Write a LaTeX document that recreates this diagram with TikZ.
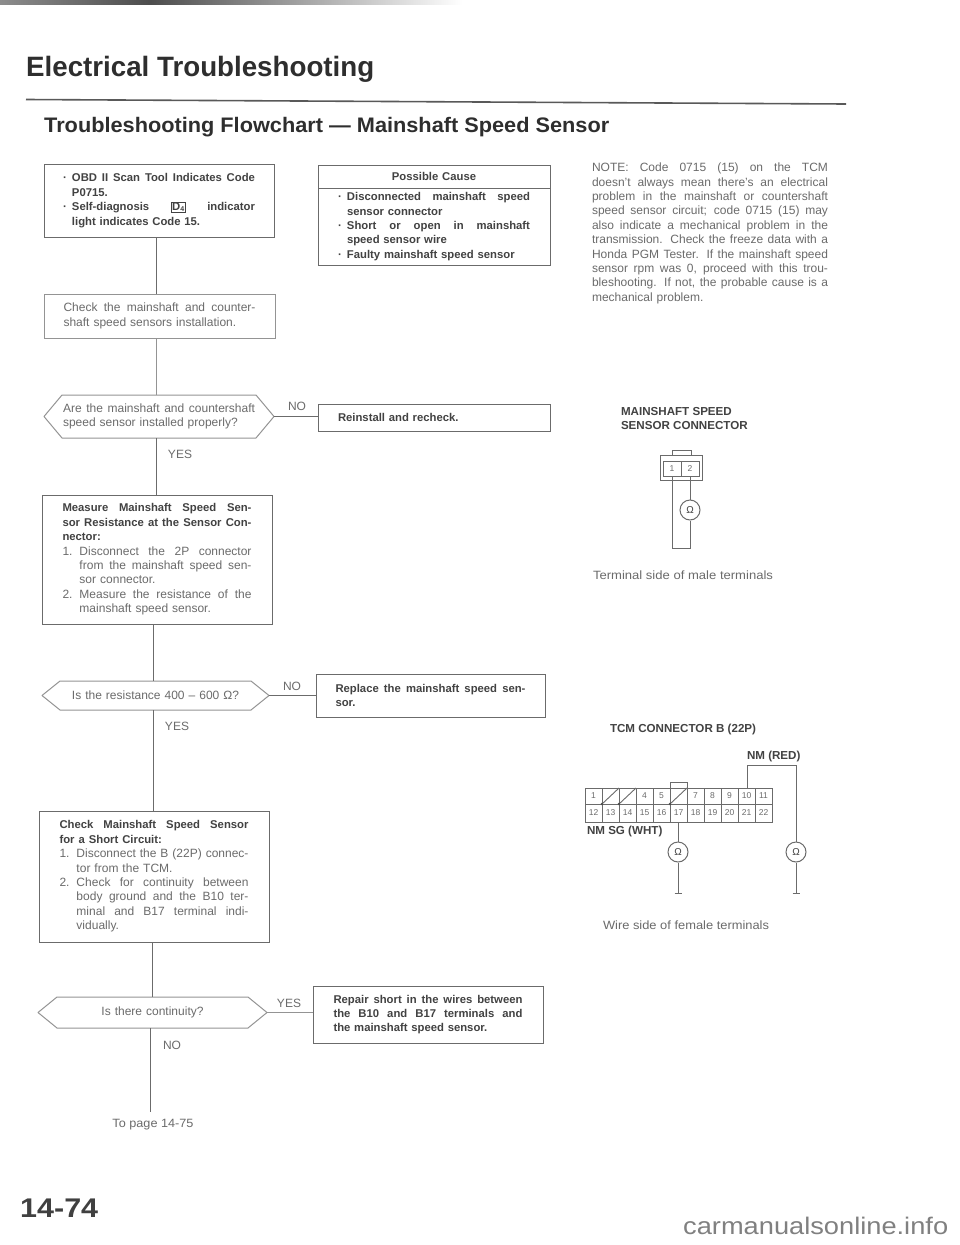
\documentclass[tikz,border=0pt]{standalone}
\usepackage{fontspec}
\usepackage{graphicx}
\setmainfont{Liberation Sans}
\usetikzlibrary{calc}
\definecolor{txt}{gray}{0.42}
\definecolor{btxt}{gray}{0.26}
\definecolor{lin}{gray}{0.42}
\definecolor{linl}{gray}{0.58}
\newcommand\jbox[2]{\makebox[#1][s]{\spaceskip=0pt \xspaceskip=0pt #2}}
\newcommand\jl[1]{\jbox{\hsize}{#1}}
\newcommand\jli[2][17pt]{\hspace*{#1}\jbox{\dimexpr\hsize-#1\relax}{#2}}
\newcommand\nli[3][17pt]{\makebox[#1][l]{#2}\jbox{\dimexpr\hsize-#1\relax}{#3}}
\newcommand\pl[2][17pt]{\hspace*{#1}#2}
\newcommand\bfl[1]{{\color{btxt}\fontsize{11.3}{14.4}\selectfont\bfseries #1}}
\newcommand\fitw[2]{\resizebox{#1pt}{\height}{#2}}
\newcommand\hexa[3][lin]{\draw[color=#1,line width=1pt,line join=round]
  (#2.west) -- ($(#2.north west)+(#3,0)$) -- ($(#2.north east)+(-#3,0)$) -- (#2.east)
  -- ($(#2.south east)+(-#3,0)$) -- ($(#2.south west)+(#3,0)$) -- cycle;}
\tikzset{
  base/.style={inner sep=0pt,outer sep=0pt,align=left,anchor=north west,
    font=\fontsize{12}{14.4}\selectfont,text=txt},
  boxn/.style={base,draw=lin,line width=1pt},
  boldbox/.style={boxn,text=btxt,font=\fontsize{11.3}{14.4}\selectfont\bfseries},
  hexn/.style={base},
  tag/.style={inner sep=0pt,outer sep=0pt,font=\fontsize{12}{14}\selectfont,text=txt},
  flow/.style={draw=lin,line width=1pt},
  flowl/.style={draw=linl,line width=1pt},
  wire/.style={draw=lin,line width=1pt},
  cellb/.style={draw=lin,line width=1pt,inner sep=0pt,outer sep=0pt,minimum width=17pt,
    font=\fontsize{8.5}{10}\selectfont,text=txt},
  omega/.style={draw=lin,line width=1pt,circle,minimum size=20pt,inner sep=0pt,
    font=\fontsize{10}{11}\selectfont,text=btxt},
  captext/.style={inner sep=0pt,outer sep=0pt,anchor=west,font=\fontsize{12}{14}\selectfont,text=txt},
  bcap/.style={inner sep=0pt,outer sep=0pt,anchor=west,font=\fontsize{11.6}{14.8}\selectfont\bfseries,text=btxt,align=left},
  shell/.style={draw=lin,line width=1pt,inner sep=0pt,outer sep=0pt,anchor=north west},
}
\begin{document}
\begin{tikzpicture}[x=1pt,y=-1pt]
\useasboundingbox (0,0) rectangle (960,1245);
\fill[white] (0,0) rectangle (960,1245);
% page edge band
\shade[left color=black!45,right color=black!70] (0,0) rectangle (150,4);
\shade[left color=black!70,right color=white] (150,0) rectangle (462,4);
% headings
\node[inner sep=0pt,anchor=base west,text=black!82,font=\fontsize{28}{30}\selectfont\bfseries] (title) at (26,76)
  {\fitw{348}{Electrical Troubleshooting}};
\draw[black!65,line width=1.6pt] (26,99.5) -- (846,104);
\node[inner sep=0pt,anchor=base west,text=black!82,font=\fontsize{21}{24}\selectfont\bfseries] (sub) at (44,132)
  {\fitw{565}{Troubleshooting Flowchart — Mainshaft Speed Sensor}};
% flow boxes
\node[boldbox,minimum width=230pt,minimum height=73pt,text width=192pt,inner xsep=19pt] (b1) at (44,164)
  {\makebox[9pt][l]{·}\jbox{\dimexpr\hsize-9pt\relax}{OBD II Scan Tool Indicates Code}\\
   \hspace*{9pt}P0715.\\
   \makebox[9pt][l]{·}\jbox{\dimexpr\hsize-9pt\relax}{Self-diagnosis {\fboxsep=.8pt\fboxrule=.5pt\fbox{D\raisebox{-1pt}{\scriptsize 4}}} indicator}\\
   \hspace*{9pt}light indicates Code 15.};
\node[boldbox,minimum width=232pt,minimum height=23pt,text width=232pt,align=center] (causeh) at (318,165) {Possible Cause};
\node[boldbox,minimum width=232pt,minimum height=77pt,text width=192pt,inner xsep=20pt] (causeb) at (318,188)
  {\makebox[9pt][l]{·}\jbox{\dimexpr\hsize-9pt\relax}{Disconnected mainshaft speed}\\
   \hspace*{9pt}sensor connector\\
   \makebox[9pt][l]{·}\jbox{\dimexpr\hsize-9pt\relax}{Short or open in mainshaft}\\
   \hspace*{9pt}speed sensor wire\\
   \makebox[9pt][l]{·}Faulty mainshaft speed sensor};
\node[boxn,draw=linl,minimum width=231pt,minimum height=44pt,text width=192pt,inner xsep=19.5pt] (b2) at (44,294)
  {\jl{Check the mainshaft and counter-}\\shaft speed sensors installation.};
\node[hexn,minimum width=230pt,minimum height=43pt,text width=192pt,inner xsep=19pt] (d1) at (44,395)
  {\jl{Are the mainshaft and countershaft}\\speed sensor installed properly?};
\hexa[linl]{d1}{18}
\node[boldbox,minimum width=232pt,minimum height=27pt,text width=192pt,inner xsep=20pt] (r1) at (318,404) {Reinstall and recheck.};
\node[boxn,minimum width=230pt,minimum height=129pt,text width=189pt,inner xsep=20.5pt] (m) at (42,495)
  {\bfl{\jl{Measure Mainshaft Speed Sen-}}\\
   \bfl{\jl{sor Resistance at the Sensor Con-}}\\
   \bfl{nector:}\\
   \nli{1.}{Disconnect the 2P connector}\\
   \jli{from the mainshaft speed sen-}\\
   \pl{sor connector.}\\
   \nli{2.}{Measure the resistance of the}\\
   \pl{mainshaft speed sensor.}};
\node[hexn,minimum width=227pt,minimum height=29pt,text width=227pt,align=center] (d2) at (42,681)
  {Is the resistance 400 – 600 Ω?};
\hexa[linl]{d2}{18}
\node[boldbox,minimum width=229pt,minimum height=43pt,text width=190pt,inner xsep=19.5pt] (r2) at (316,674)
  {\jl{Replace the mainshaft speed sen-}\\sor.};
\node[boxn,minimum width=230pt,minimum height=131pt,text width=189pt,inner xsep=20.5pt] (k) at (39,811)
  {\bfl{\jl{Check Mainshaft Speed Sensor}}\\
   \bfl{for a Short Circuit:}\\
   \nli{1.}{Disconnect the B (22P) connec-}\\
   \pl{tor from the TCM.}\\
   \nli{2.}{Check for continuity between}\\
   \jli{body ground and the B10 ter-}\\
   \jli{minal and B17 terminal indi-}\\
   \pl{vidually.}};
\node[hexn,minimum width=229pt,minimum height=31pt,text width=229pt,align=center] (d3) at (38,997)
  {Is there continuity?};
\hexa[linl]{d3}{19}
\node[boldbox,minimum width=230pt,minimum height=57pt,text width=189pt,inner xsep=20.5pt] (r3) at (313,986)
  {\jl{Repair short in the wires between}\\
   \jl{the B10 and B17 terminals and}\\
   the mainshaft speed sensor.};
% connector guides
\coordinate (xa) at (156,0); \coordinate (xb) at (153,0); \coordinate (xc) at (152,0); \coordinate (xd) at (150,0);
\coordinate (endp) at (150,1112);
\draw[flow] (b1.south -| xa) -- (b2.north -| xa);
\draw[flowl] (b2.south -| xa) -- (d1.north -| xa);
\draw[flow] (d1.south -| xa) -- (m.north -| xa);
\draw[flow] (m.south -| xb) -- (d2.north -| xb);
\draw[flow] (d2.south -| xb) -- (k.north -| xb);
\draw[flow] (k.south -| xc) -- (d3.north -| xc);
\draw[flow] (d3.south -| xd) -- (endp);
\draw[flow] (d1.east) -- (r1.west |- d1.east);
\draw[flow] (d2.east) -- (r2.west |- d2.east);
\draw[flowl] (d3.east) -- (r3.west |- d3.east);
% labels
\node[tag] (n1) at (297,406) {NO};
\node[tag] (y1) at (180,454) {YES};
\node[tag] (n2) at (292,686) {NO};
\node[tag] (y2) at (177,726) {YES};
\node[tag] (y3) at (289,1003) {YES};
\node[tag] (n3) at (172,1045) {NO};
\node[tag] (topage) at (153,1125) {\fitw{81}{To page 14-75}};
% note
\node[base,text width=236pt] (note) at (592,163)
  {\jl{NOTE: Code 0715 (15) on the TCM}\\
   \jl{doesn't always mean there's an electrical}\\
   \jl{problem in the mainshaft or countershaft}\\
   \jl{speed sensor circuit; code 0715 (15) may}\\
   \jl{also indicate a mechanical problem in the}\\
   \jl{transmission. Check the freeze data with a}\\
   \jl{Honda PGM Tester. If the mainshaft speed}\\
   \jl{sensor rpm was 0, proceed with this trou-}\\
   \jl{bleshooting. If not, the probable cause is a}\\
   mechanical problem.};
% mainshaft connector
\node[bcap] (mc) at (621,418.5) {MAINSHAFT SPEED\\SENSOR CONNECTOR};
\node[shell,minimum width=19pt,minimum height=5pt] (tab) at (672,450) {};
\node[shell,minimum width=42pt,minimum height=25pt] (hous) at (660,455) {};
\node[cellb,minimum width=18pt,minimum height=15pt,anchor=north west] (p1) at (663,461) {1};
\node[cellb,minimum width=18pt,minimum height=15pt,anchor=north west] (p2) at (681,461) {2};
\node[omega] (om0) at (690,510) {Ω};
\coordinate (lp) at (681,548);
\draw[wire] (p1.south) -- (p1.south |- lp) -- (p2.south |- lp) -- (om0.south);
\draw[wire] (p2.south) -- (om0.north);
\node[captext] (c1) at (593,575) {\fitw{180}{Terminal side of male terminals}};
% TCM connector
\node[captext,font=\fontsize{11.6}{14}\selectfont\bfseries,text=btxt] (tc) at (610,729) {TCM CONNECTOR B (22P)};
\node[captext,font=\fontsize{11.6}{14}\selectfont\bfseries,text=btxt] (nmr) at (747,756) {NM (RED)};
\node[captext,font=\fontsize{11.6}{14}\selectfont\bfseries,text=btxt] (nms) at (587,831) {NM SG (WHT)};
\foreach \i/\t in {1/1,2/{},3/{},4/4,5/5,6/{},7/7,8/8,9/9,10/10,11/11}{
  \node[cellb,minimum height=16pt,anchor=north west] (t\i) at ({585+17*(\i-1)},788) {\t};
}
\foreach \i/\t in {1/12,2/13,3/14,4/15,5/16,6/17,7/18,8/19,9/20,10/21,11/22}{
  \node[cellb,minimum height=18pt,anchor=north west] (u\i) at ({585+17*(\i-1)},804) {\t};
}
\node[shell,minimum width=17pt,minimum height=6pt] (tb) at (670,782) {};
\foreach \i in {2,3,6}{
  \draw[lin,line width=.9pt] (t\i.south west) -- (t\i.north east);
  \fill[lin!70!black] (t\i.south west) circle (1.4pt);
}
\node[omega] (om2) at (678,852) {Ω};
\node[omega] (om1) at (796,852) {Ω};
\coordinate (g2) at (678,893); \coordinate (g1) at (796,893);
\coordinate (top) at (747,765);
\draw[wire] (u6.south -| om2) -- (om2.north);
\draw[wire] (om2.south) -- (g2);
\draw[lin,line width=1pt] ($(g2)+(-3.5,0)$) -- ($(g2)+(3.5,0)$);
\draw[wire] (t10.north -| top) -- (top) -- (top -| om1) -- (om1.north);
\draw[wire] (om1.south) -- (g1);
\draw[lin,line width=1pt] ($(g1)+(-3.5,0)$) -- ($(g1)+(3.5,0)$);
\node[captext] (c2) at (603,925) {\fitw{166}{Wire side of female terminals}};
% page number, watermark
\node[inner sep=0pt,anchor=base west,text=black!75,font=\fontsize{27}{30}\selectfont\bfseries] (pg) at (20,1217) {\fitw{78}{14-74}};
\node[inner sep=0pt,anchor=base west,text=black!50,font=\fontsize{24}{28}\selectfont] (wm) at (683,1234) {\fitw{265}{carmanualsonline.info}};
\end{tikzpicture}
\end{document}
